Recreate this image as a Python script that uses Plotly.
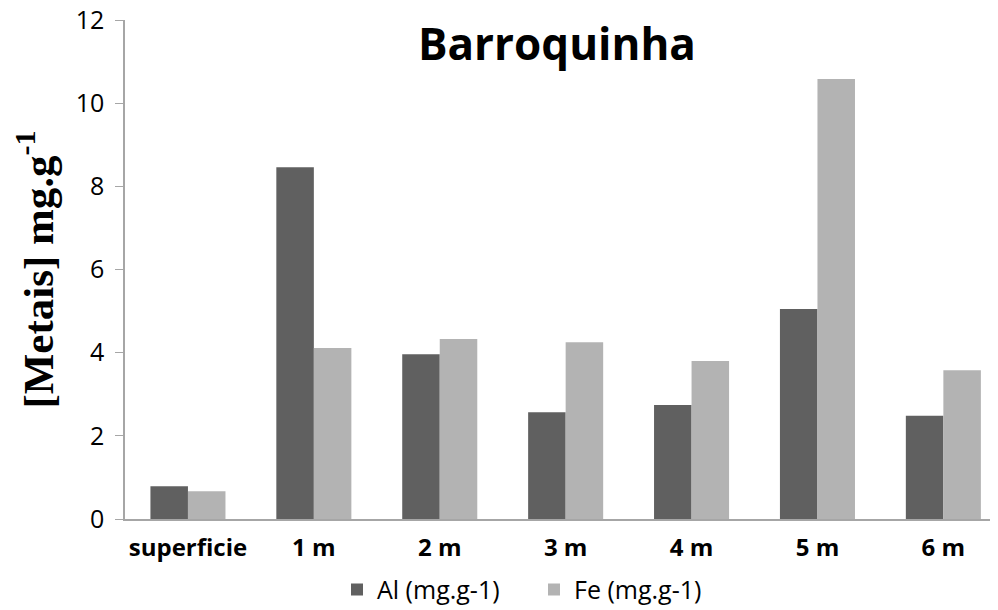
import plotly.graph_objects as go

categories = ["superficie", "1 m", "2 m", "3 m", "4 m", "5 m", "6 m"]
al_values = [0.79, 8.46, 3.96, 2.57, 2.74, 5.05, 2.48]
fe_values = [0.67, 4.11, 4.33, 4.25, 3.80, 10.58, 3.58]
y_ticks = [0, 2, 4, 6, 8, 10, 12]

fig = go.Figure()
fig.add_trace(go.Bar(x=categories, y=al_values, name="Al (mg.g-1)",
                     marker=dict(color="#606060", line=dict(width=0))))
fig.add_trace(go.Bar(x=categories, y=fe_values, name="Fe (mg.g-1)",
                     marker=dict(color="#b3b3b3", line=dict(width=0))))

W, H = 990, 602
L, R, T, B = 117, 0, 12, 91
fig.update_layout(
    width=W, height=H,
    margin=dict(l=L, r=R, t=T, b=B, autoexpand=False),
    paper_bgcolor="white", plot_bgcolor="white",
    barmode="group", bargap=0.404, bargroupgap=0,
    showlegend=True,
    legend=dict(orientation="h", x=(329 - L) / (W - L - R), xanchor="left",
                y=-0.142, yanchor="middle",
                font=dict(family="Open Sans", size=25, color="black"),
                itemwidth=30, entrywidth=152, entrywidthmode="pixels", traceorder="normal"),
    title=dict(text="<b>Barroquinha</b>", x=0.5545, xanchor="center", y=0.9385, yanchor="middle",
               font=dict(family="Open Sans", size=44, color="black")),
    font=dict(family="Open Sans", color="black"),
)
fig.update_xaxes(range=[-0.5, 6.434], showline=True, linecolor="#a6a6a6", linewidth=2, ticks="",
                 automargin=False,
                 tickfont=dict(family="Open Sans", size=24, color="black", weight="bold"),
                 ticklabelstandoff=6, showgrid=False)
fig.update_yaxes(range=[0, 12], tickvals=y_ticks, showline=True, linecolor="#a6a6a6", linewidth=1.5,
                 ticks="outside", ticklen=8, tickcolor="#a6a6a6", showgrid=False, zeroline=False,
                 automargin=False, ticklabeloverflow="allow",
                 tickfont=dict(family="Open Sans", size=25, color="black"), ticklabelstandoff=6,
                 title=dict(text="<b>[Metais] mg.g<sup>-1</sup></b>", standoff=16,
                            font=dict(family="Liberation Serif", size=43, color="black")))

fig.write_html("out.html")
